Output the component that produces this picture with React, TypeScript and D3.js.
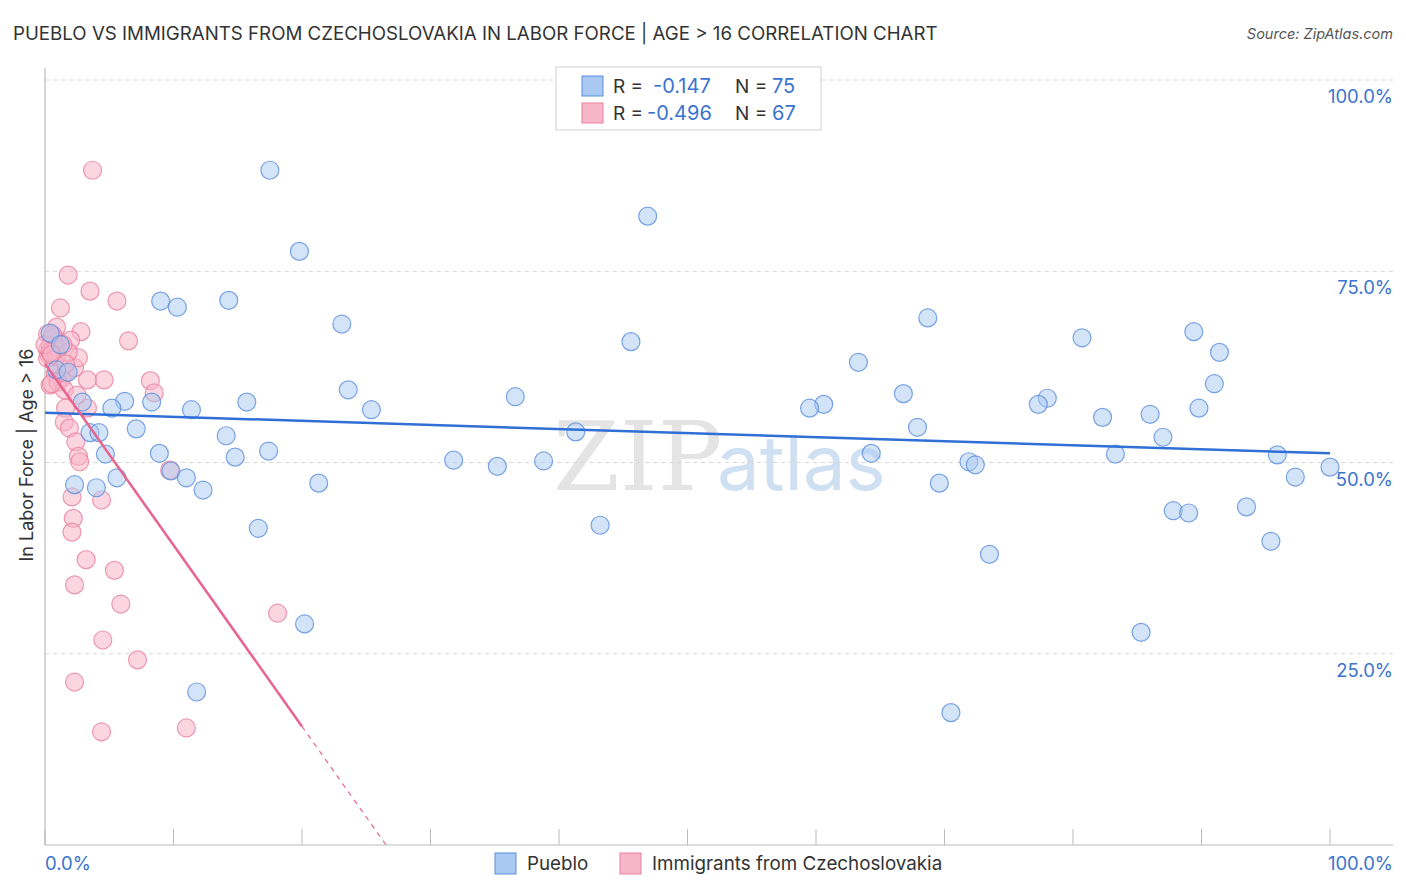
import React from "react";
import * as d3 from "d3";

const blueX = [17.5,19.8,46.9,9.0,10.3,14.3,23.1,45.6,68.7,80.7,89.4,91.4,63.3,23.6,36.6,91.0,66.8,78.0,77.3,60.6,59.5,89.8,82.3,86.0,25.4,15.7,11.4,8.3,6.2,5.2,2.9,67.9,41.3,87.0,7.1,14.1,3.5,4.2,64.3,83.3,8.9,4.7,17.4,14.8,31.8,35.2,38.8,71.9,72.4,95.9,100.0,97.3,9.8,11.0,5.6,2.3,4.0,12.3,21.3,69.6,93.5,87.8,89.0,16.6,43.2,95.4,73.5,20.2,85.3,11.8,70.5,0.4,0.9,1.8,1.2];
const blueY = [88.2,77.6,82.2,71.1,70.3,71.2,68.1,65.8,68.9,66.3,67.1,64.4,63.1,59.5,58.6,60.3,59.0,58.4,57.6,57.6,57.1,57.1,55.9,56.3,56.9,57.9,56.9,57.9,58.0,57.1,57.9,54.6,54.0,53.3,54.4,53.5,53.9,53.9,51.2,51.1,51.2,51.1,51.5,50.7,50.3,49.5,50.2,50.1,49.7,51.0,49.4,48.1,48.9,48.0,48.0,47.1,46.7,46.4,47.3,47.3,44.2,43.7,43.4,41.4,41.8,39.7,38.0,28.9,27.8,20.0,17.3,66.9,62.1,61.8,65.4];

const pinkX = [3.7,1.8,3.5,5.6,1.2,6.5,2.8,0.9,8.2,4.6,3.3,8.5,1.6,3.3,1.5,1.9,2.4,2.6,2.7,2.1,4.4,2.2,2.1,3.2,5.4,2.3,5.9,4.5,7.2,2.3,4.4,11.0,18.1,9.7,0.2,0.5,0.8,1.0,0.6,0.2,0.4,0.8,1.0,0.3,0.7,0.5,0.2,0.9,0.4,1.3,0.8,1.3,0.4,1.6,2.3,2.6,2.0,0.0,1.8,0.6,1.4,0.5,1.6,1.0,1.5,0.5,2.5];
const pinkY = [88.2,74.5,72.4,71.1,70.2,65.9,67.1,67.7,60.7,60.8,60.8,59.1,57.1,57.1,55.3,54.5,52.7,50.8,50.1,45.5,45.1,42.7,40.9,37.3,35.9,34.0,31.5,26.8,24.2,21.3,14.8,15.3,30.3,49.0,66.8,66.0,65.4,65.8,66.3,64.7,65.2,64.6,64.9,64.1,65.0,64.4,63.6,63.9,64.4,62.1,61.6,61.0,60.1,61.7,62.4,63.7,66.0,65.4,64.4,66.7,65.4,64.1,62.9,60.5,59.5,60.3,58.8];

const blueTrend = [56.5, 51.2];
const pinkTrend = { intercept: 62.9, slope: -2.37, solidEnd: 20 };

const yTicks = [25, 50, 75, 100];
const xTicks = [0, 10, 20, 30, 40, 50, 60, 70, 80, 90, 100];

const BLUE_FILL = "#a9c9f2";
const BLUE_STROKE = "#5b8fde";
const PINK_FILL = "#f7b5c9";
const PINK_STROKE = "#e9829f";
const BLUE_LINE = "#2f6fd6";
const PINK_LINE = "#e8648f";
const LABEL_BLUE = "#3b73d0";

export default function App() {
  const W = 1406, H = 892;
  const x = d3.scaleLinear().domain([0, 100]).range([45, 1330]);
  const y = d3.scaleLinear().domain([0, 100]).range([845, 80]);
  const font = "Inter, 'Open Sans', sans-serif";
  const line = d3.line<[number, number]>().x(d => x(d[0])).y(d => y(d[1]));
  const pinkZero = -pinkTrend.intercept / pinkTrend.slope;
  const pinkAt = (v: number) => pinkTrend.intercept + pinkTrend.slope * v;

  return (
    <svg width={W} height={H} style={{ position: "absolute", left: 0, top: 0, background: "#fff" }} fontFamily={font}>
      <text x={13} y={40} fontSize={18.7} fill="#333">PUEBLO VS IMMIGRANTS FROM CZECHOSLOVAKIA IN LABOR FORCE | AGE &gt; 16 CORRELATION CHART</text>
      <text x={1393} y={39} fontSize={14.5} fill="#555" fontStyle="italic" textAnchor="end">Source: ZipAtlas.com</text>

      {/* watermark */}
      <text x={553} y={490} fontSize={96} fontFamily="'DejaVu Serif', 'Liberation Serif', serif" fill="#d9d9d9" opacity={0.7}>ZIP</text>
      <text x={717} y={490} fontSize={76} fontFamily={font} fill="#bcd3ef" opacity={0.7}>atlas</text>

      {/* gridlines */}
      {yTicks.map(t => (
        <line key={t} x1={45} x2={1393} y1={y(t)} y2={y(t)} stroke="#d8d8d8" strokeDasharray="4,4" strokeWidth={1} />
      ))}
      {/* axes */}
      <line x1={45} x2={45} y1={68} y2={845} stroke="#bbb" strokeWidth={1.2} />
      <line x1={45} x2={1393} y1={845} y2={845} stroke="#bbb" strokeWidth={1.2} />
      {xTicks.map(t => (
        <line key={t} x1={x(t)} x2={x(t)} y1={829} y2={845} stroke="#bbb" strokeWidth={1} />
      ))}
      {yTicks.map(t => (
        <text key={t} x={1393} y={y(t) + 23} fontSize={18.5} fill={LABEL_BLUE} textAnchor="end">{t.toFixed(1)}%</text>
      ))}
      <text x={45} y={870} fontSize={18.5} fill={LABEL_BLUE}>0.0%</text>
      <text x={1393} y={870} fontSize={18.5} fill={LABEL_BLUE} textAnchor="end">100.0%</text>

      <text transform={`translate(33,455) rotate(-90)`} fontSize={18} fill="#333" textAnchor="middle">In Labor Force | Age &gt; 16</text>

      {/* points */}
      {pinkX.map((v, i) => (
        <circle key={"p" + i} cx={x(v)} cy={y(pinkY[i])} r={9} fill={PINK_FILL} fillOpacity={0.55} stroke={PINK_STROKE} strokeOpacity={0.8} strokeWidth={1.2} />
      ))}
      {blueX.map((v, i) => (
        <circle key={"b" + i} cx={x(v)} cy={y(blueY[i])} r={9} fill={BLUE_FILL} fillOpacity={0.5} stroke={BLUE_STROKE} strokeOpacity={0.8} strokeWidth={1.2} />
      ))}

      {/* trends */}
      <path d={line([[0, blueTrend[0]], [100, blueTrend[1]]]) || ""} stroke={BLUE_LINE} strokeWidth={2.5} fill="none" />
      <path d={line([[0, pinkAt(0)], [pinkTrend.solidEnd, pinkAt(pinkTrend.solidEnd)]]) || ""} stroke={PINK_LINE} strokeWidth={2.5} fill="none" />
      <path d={line([[pinkTrend.solidEnd, pinkAt(pinkTrend.solidEnd)], [pinkZero, 0]]) || ""} stroke={PINK_LINE} strokeWidth={1.2} strokeDasharray="5,5" fill="none" />

      {/* top legend */}
      <rect x={556} y={67} width={265} height={63} fill="#fff" stroke="#d0d0d0" strokeWidth={1} />
      <rect x={582} y={76} width={21} height={20} fill={BLUE_FILL} stroke={BLUE_STROKE} strokeWidth={1} />
      <rect x={582} y={103} width={21} height={20} fill={PINK_FILL} stroke={PINK_STROKE} strokeWidth={1} />
      <text x={613} y={93} fontSize={19} fill="#333">R =</text>
      <text x={653} y={93} fontSize={20} fill={LABEL_BLUE}>-0.147</text>
      <text x={735} y={93} fontSize={19} fill="#333">N =</text>
      <text x={772} y={93} fontSize={20} fill={LABEL_BLUE}>75</text>
      <text x={613} y={120} fontSize={19} fill="#333">R =</text>
      <text x={647} y={120} fontSize={20} fill={LABEL_BLUE}>-0.496</text>
      <text x={735} y={120} fontSize={19} fill="#333">N =</text>
      <text x={772} y={120} fontSize={20} fill={LABEL_BLUE}>67</text>

      {/* bottom legend */}
      <rect x={495} y={853} width={21} height={21} fill={BLUE_FILL} stroke={BLUE_STROKE} strokeWidth={1} />
      <text x={527} y={870} fontSize={18.8} fill="#333">Pueblo</text>
      <rect x={620} y={853} width={21} height={21} fill={PINK_FILL} stroke={PINK_STROKE} strokeWidth={1} />
      <text x={652} y={870} fontSize={18.8} fill="#333">Immigrants from Czechoslovakia</text>
    </svg>
  );
}
